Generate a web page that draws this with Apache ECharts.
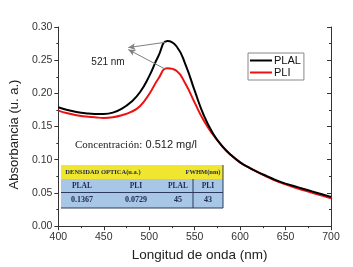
<!DOCTYPE html>
<html>
<head>
<meta charset="utf-8">
<script src="https://cdn.jsdelivr.net/npm/echarts@6/dist/echarts.min.js"></script>
<style>
  html, body { margin: 0; padding: 0; background: #fff; }
  #chart { width: 353px; height: 267px; }
</style>
</head>
<body>
<div id="chart"></div>
<script>
// longitud de onda (nm)
const wavelengths = [400, 410, 420, 430, 440, 450, 460, 470, 480, 490, 500, 510, 520, 530,
  540, 550, 560, 570, 580, 590, 600, 610, 620, 630, 640, 650, 660, 670, 680, 690, 700]
// absorbancia PLAL (negro)
const plal = [0.179, 0.175, 0.172, 0.170, 0.169, 0.169, 0.171, 0.177, 0.187, 0.202, 0.226, 0.256, 0.279, 0.271,
  0.243, 0.204, 0.167, 0.140, 0.121, 0.107, 0.096, 0.088, 0.081, 0.075, 0.069, 0.064, 0.060, 0.056, 0.052, 0.048, 0.044]
// absorbancia PLI (rojo)
const pli = [0.174, 0.170, 0.167, 0.165, 0.164, 0.163, 0.164, 0.167, 0.172, 0.181, 0.199, 0.222, 0.238, 0.234,
  0.214, 0.186, 0.159, 0.138, 0.121, 0.107, 0.096, 0.088, 0.081, 0.074, 0.068, 0.063, 0.058, 0.054, 0.050, 0.046, 0.042]

const seriesNames = ['PLAL', 'PLI']
// tabla insertada
const tableHeader = ['DENSIDAD OPTICA(u.a.)', 'FWHM(nm)']
const tableCols = ['PLAL', 'PLI', 'PLAL', 'PLI']
const tableValues = ['0.1367', '0.0729', '45', '43']

// flechas hacia el pico (nm, absorbancia)
const arrowBlack = [[518, 0.277], [477, 0.269]]
const arrowRed = [[517, 0.237], [477, 0.266]]

const chart = echarts.init(document.getElementById('chart'))

const axisColor = '#333'
const sans = '"Liberation Sans", Arial, sans-serif'
const serif = '"Liberation Serif", "Times New Roman", serif'

function lineData(ys) {
  return wavelengths.map((x, i) => [x, ys[i]])
}

function arrow(pts) {
  return [{ coord: pts[0] }, { coord: pts[1] }]
}

// tabla (inserto)
const tx0 = 61, tx1 = 223
const colX = [82, 136, 178, 208]
const navy = '#1c2650'
const table = {
  type: 'group',
  children: [
    { type: 'rect', shape: { x: tx0, y: 165, width: tx1 - tx0, height: 14 }, style: { fill: '#f0e630' } },
    { type: 'rect', shape: { x: tx0, y: 179, width: tx1 - tx0, height: 29 }, style: { fill: '#a8c6e6' } },
    { type: 'line', shape: { x1: tx0, y1: 192.5, x2: tx1, y2: 192.5 }, style: { stroke: '#2c3a5c', lineWidth: 1 } },
    { type: 'line', shape: { x1: tx0, y1: 208, x2: tx1, y2: 208 }, style: { stroke: '#2c3a5c', lineWidth: 1.2 } },
    { type: 'line', shape: { x1: tx1, y1: 165, x2: tx1, y2: 208 }, style: { stroke: '#2c3a5c', lineWidth: 1 } },
    { type: 'line', shape: { x1: 193, y1: 179, x2: 193, y2: 208 }, style: { stroke: '#2c3a5c', lineWidth: 1 } },
    { type: 'text', x: 103, y: 172, style: { text: tableHeader[0], font: 'bold 6.5px ' + serif, fill: navy, align: 'center', verticalAlign: 'middle' } },
    { type: 'text', x: 203, y: 172, style: { text: tableHeader[1], font: 'bold 6.5px ' + serif, fill: navy, align: 'center', verticalAlign: 'middle' } }
  ].concat(tableCols.map((t, i) => ({
    type: 'text', x: colX[i], y: 186, style: { text: t, font: 'bold 7.5px ' + serif, fill: navy, align: 'center', verticalAlign: 'middle' }
  }))).concat(tableValues.map((t, i) => ({
    type: 'text', x: colX[i], y: 200, style: { text: t, font: 'bold 8px ' + serif, fill: navy, align: 'center', verticalAlign: 'middle' }
  })))
}

const baseX = { type: 'value', min: 400, max: 700, interval: 50 }
const baseY = { type: 'value', min: 0, max: 0.3, interval: 0.05 }

const option = {
  animation: false,
  backgroundColor: '#fff',
  grid: { left: 57, right: 22, top: 27, bottom: 38 },
  legend: {
    data: seriesNames,
    orient: 'vertical',
    left: 248,
    top: 53,
    padding: [2, 3, 2, 2],
    itemGap: 1,
    itemWidth: 22,
    itemHeight: 2,
    icon: 'rect',
    borderColor: '#888',
    borderWidth: 1,
    textStyle: { fontFamily: sans, fontSize: 11, color: '#111', lineHeight: 11, padding: [0, 0, 0, -3] }
  },
  xAxis: [
    Object.assign({}, baseX, {
      position: 'bottom',
      name: 'Longitud de onda (nm)',
      nameLocation: 'middle',
      nameGap: 20,
      nameTextStyle: { fontFamily: sans, fontSize: 13.5, color: '#222', padding: [0, 0, 0, 10] },
      axisLine: { lineStyle: { color: axisColor, width: 1 } },
      axisTick: { inside: false, length: 4, lineStyle: { color: axisColor } },
      minorTick: { show: true, splitNumber: 2, length: 2, lineStyle: { color: axisColor } },
      axisLabel: { fontFamily: sans, fontSize: 10.5, color: '#333', margin: 6 },
      splitLine: { show: false }
    }),
    Object.assign({}, baseX, {
      position: 'top',
      axisLine: { lineStyle: { color: axisColor, width: 1 } },
      axisTick: { inside: true, length: 4, lineStyle: { color: axisColor } },
      minorTick: { show: true, splitNumber: 2, length: 2, lineStyle: { color: axisColor } },
      axisLabel: { show: false },
      splitLine: { show: false }
    })
  ],
  yAxis: [
    Object.assign({}, baseY, {
      position: 'left',
      name: 'Absorbancia (u. a.)',
      nameLocation: 'middle',
      nameGap: 37,
      nameTextStyle: { fontFamily: sans, fontSize: 13, color: '#222', padding: [0, 16, 0, 0] },
      axisLine: { lineStyle: { color: axisColor, width: 1 } },
      axisTick: { inside: false, length: 4, lineStyle: { color: axisColor } },
      minorTick: { show: true, splitNumber: 2, length: 2, lineStyle: { color: axisColor } },
      axisLabel: { fontFamily: sans, fontSize: 10.5, color: '#333', margin: 6, formatter: v => v.toFixed(2) },
      splitLine: { show: false }
    }),
    Object.assign({}, baseY, {
      position: 'right',
      axisLine: { lineStyle: { color: axisColor, width: 1 } },
      axisTick: { inside: true, length: 4, lineStyle: { color: axisColor } },
      minorTick: { show: true, splitNumber: 2, length: 2, lineStyle: { color: axisColor } },
      axisLabel: { show: false },
      splitLine: { show: false }
    })
  ],
  series: [
    {
      name: seriesNames[0],
      type: 'line',
      data: lineData(plal),
      smooth: 0.5,
      symbol: 'none',
      color: '#000',
      lineStyle: { color: '#000', width: 2 },
      z: 3,
      markLine: {
        silent: true,
        symbol: ['none', 'arrow'],
        symbolSize: [5, 7],
        label: { show: false },
        lineStyle: { color: '#808080', width: 1, type: 'solid' },
        data: [arrow(arrowBlack), arrow(arrowRed)]
      }
    },
    {
      name: seriesNames[1],
      type: 'line',
      data: lineData(pli),
      smooth: 0.5,
      symbol: 'none',
      color: '#ee1111',
      lineStyle: { color: '#ee1111', width: 2 },
      z: 2
    }
  ],
  graphic: [
    { type: 'text', x: 108, y: 62, style: { text: '521 nm', font: '10px ' + sans, fill: '#222', align: 'center', verticalAlign: 'middle' } },
    {
      type: 'text', x: 75, y: 145,
      style: {
        text: '{a|Concentración:} {b|0.512 mg/l}',
        verticalAlign: 'middle',
        rich: {
          a: { fontFamily: serif, fontSize: 11, fill: '#222' },
          b: { fontFamily: sans, fontSize: 11, fill: '#222' }
        }
      }
    },
    table
  ]
}

chart.setOption(option)
</script>
</body>
</html>
